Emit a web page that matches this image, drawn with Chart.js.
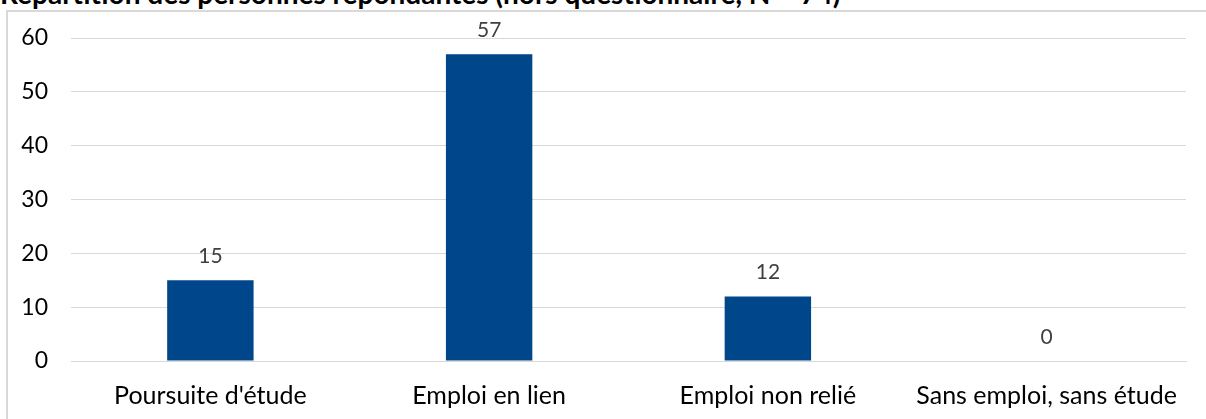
<!DOCTYPE html>
<html>
<head>
<meta charset="utf-8">
<script src="https://cdn.jsdelivr.net/npm/chart.js@4/dist/chart.umd.min.js"></script>
<style>
  html, body { margin: 0; padding: 0; background: #fff; overflow: hidden; }
  #frame { position: absolute; left: 6px; top: 10px; width: 1210px; height: 420px; border: 2px solid #d9d9d9; box-sizing: border-box; }
  #title { position: absolute; left: 0px; top: -21px; font: bold 28px Lato, sans-serif; line-height: 28px; color: #000; white-space: nowrap; }
  #wrap { position: absolute; left: 0; top: 0; width: 1206px; height: 419px; }
</style>
</head>
<body>
<div id="frame"></div>
<div id="title">Répartition des personnes répondantes (hors questionnaire, N = 74)</div>
<div id="wrap"><canvas id="chart"></canvas></div>
<script>
const categories = ["Poursuite d'étude", "Emploi en lien", "Emploi non relié", "Sans emploi, sans étude"];
const counts = [15, 57, 12, 0];
const yTicks = [0, 10, 20, 30, 40, 50, 60];

// draws the value above each bar
const valueLabels = {
    id: 'valueLabels',
    afterDatasetsDraw(chart) {
        const ctx = chart.ctx;
        const meta = chart.getDatasetMeta(0);
        ctx.save();
        ctx.font = '21px Lato, sans-serif';
        ctx.fillStyle = '#404040';
        ctx.textAlign = 'center';
        ctx.textBaseline = 'alphabetic';
        meta.data.forEach((bar, i) => {
            ctx.fillText(String(counts[i]), bar.x, bar.y - 17);
        });
        ctx.restore();
    }
};

const ctx = document.getElementById('chart').getContext('2d');
const chart = new Chart(ctx, {
    type: 'bar',
    data: {
        labels: categories,
        datasets: [{
            data: counts,
            backgroundColor: '#00468b',
            categoryPercentage: 1,
            barPercentage: 0.31
        }]
    },
    options: {
        responsive: true,
        maintainAspectRatio: false,
        animation: false,
        layout: { padding: { left: 20, right: 20, top: 38, bottom: 0 } },
        plugins: {
            legend: { display: false },
            tooltip: { enabled: false }
        },
        scales: {
            x: {
                afterFit: axis => { axis.height = 58; },
                grid: { display: false },
                border: { color: '#d9d9d9', width: 1 },
                ticks: { color: '#000', font: { family: 'Lato', size: 25 }, padding: 12 }
            },
            y: {
                min: 0,
                max: 60,
                afterBuildTicks: axis => { axis.ticks = yTicks.map(v => ({ value: v })); },
                afterFit: axis => { axis.width = 51; },
                grid: { color: '#d9d9d9', lineWidth: 1, drawTicks: false },
                border: { display: false },
                ticks: { color: '#000', font: { family: 'Lato', size: 23 }, padding: 23 }
            }
        }
    },
    plugins: [valueLabels]
});
</script>
</body>
</html>
